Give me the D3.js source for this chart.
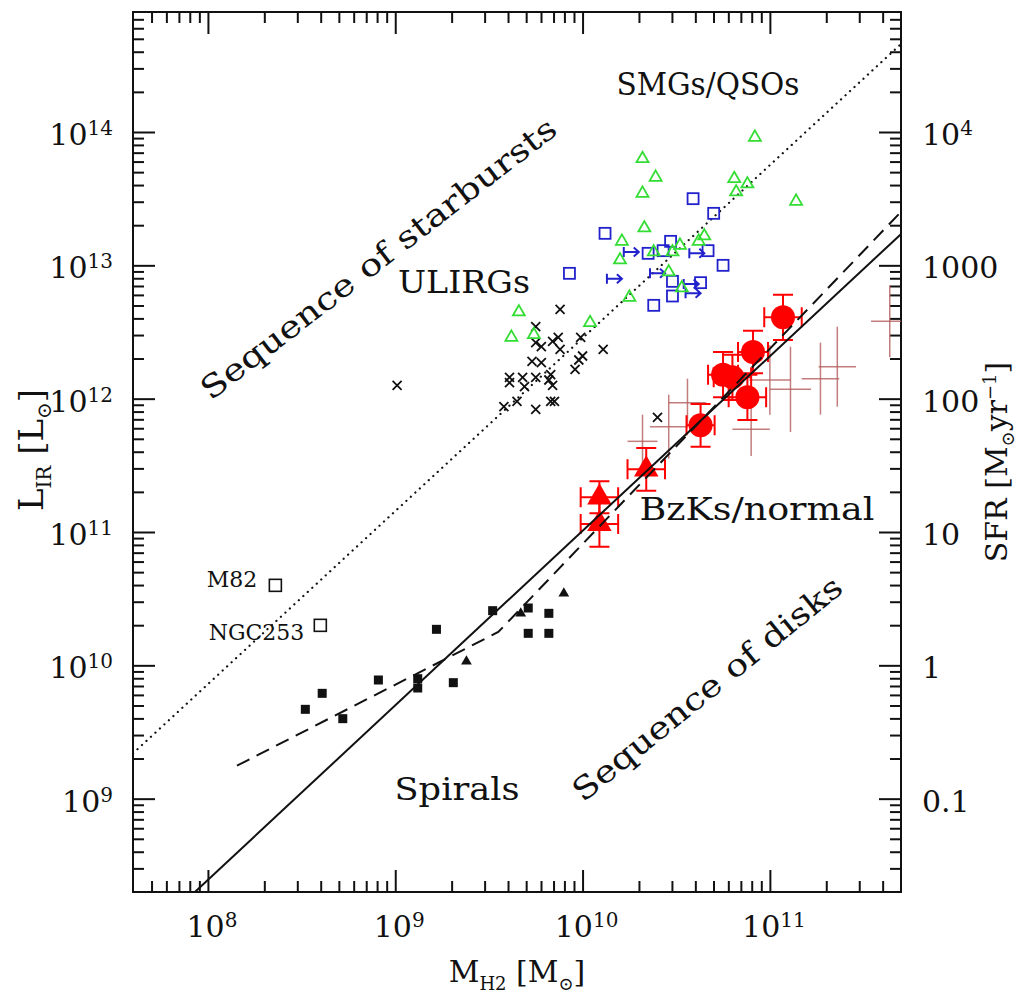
<!DOCTYPE html>
<html>
<head>
<meta charset="utf-8">
<script src="https://cdn.jsdelivr.net/npm/d3@7"></script>
<style>
body { margin: 0; background: #fff; }
svg { display: block; }
text { font-family: "DejaVu Serif", serif; fill: #111; }
</style>
</head>
<body>
<svg id="chart" width="1021" height="993"></svg>
<script>
// all values are log10 of M_H2 [Msun] and L_IR [Lsun]

// SMGs (green open triangles)
const smgM = [10.92, 10.32, 10.39, 10.32, 10.81, 10.88, 10.82, 11.14, 10.33, 10.21, 10.65, 10.62,
              10.20, 10.38, 10.48, 10.52, 10.46, 10.53, 10.25, 9.66, 9.62, 9.74, 10.04];
const smgL = [13.96, 13.80, 13.66, 13.54, 13.65, 13.61, 13.55, 13.48, 13.28, 13.18, 13.22, 13.18,
              13.04, 13.10, 13.10, 13.15, 12.95, 12.83, 12.76, 12.65, 12.46, 12.48, 12.57];

// QSOs (blue open squares)
const qsoM = [10.59, 10.70, 10.12, 10.47, 10.35, 10.43, 10.67, 10.75, 9.93, 10.48, 10.63, 10.48, 10.38];
const qsoL = [13.50, 13.39, 13.24, 13.18, 13.09, 13.11, 13.11, 13.00, 12.94, 12.88, 12.87, 12.77, 12.70];

// QSO lower limits in M_H2 (blue arrows)
const limM = [10.22, 10.57, 10.13, 10.36, 10.54, 10.55];
const limL = [13.10, 13.09, 12.90, 12.94, 12.86, 12.79];

// ULIRGs (black crosses)
const ulirgM = [9.01, 9.88, 9.75, 9.75, 9.78, 9.84, 9.87, 9.88, 9.99, 10.11, 10.00, 9.98, 9.96, 9.73, 9.78,
                9.61, 9.61, 9.68, 9.75, 9.83, 9.82, 9.84, 9.69, 9.65, 9.58, 9.75, 9.83, 9.85, 10.40];
const ulirgL = [12.10, 12.67, 12.54, 12.42, 12.39, 12.43, 12.46, 12.37, 12.46, 12.37, 12.32, 12.29, 12.22, 12.28, 12.27,
                12.16, 12.12, 12.16, 12.16, 12.18, 12.14, 12.10, 12.09, 11.98, 11.94, 11.92, 11.98, 11.98, 11.86];

// local spirals (filled squares / filled triangles)
const spiralM = [8.52, 8.61, 8.72, 8.91, 9.12, 9.12, 9.22, 9.31, 9.52, 9.71, 9.71, 9.82, 9.82];
const spiralL = [9.67, 9.79, 9.60, 9.89, 9.90, 9.83, 10.27, 9.87, 10.41, 10.43, 10.24, 10.39, 10.24];
const spiralTriM = [9.38, 9.67, 9.90];
const spiralTriL = [10.03, 10.39, 10.54];

// local starbursts
const nearbyNames = ['M82', 'NGC253'];
const nearbyM = [8.36, 8.60];
const nearbyL = [10.60, 10.30];

// BzK galaxies (red circles) and errors in dex
const bzkM = [11.07, 10.91, 10.75, 10.80, 10.88, 10.63];
const bzkL = [12.61, 12.35, 12.18, 12.16, 12.01, 11.80];
const bzkXerr = [0.10, 0.08, 0.08, 0.10, 0.10, 0.075];
const bzkYerr = [0.17, 0.16, 0.17, 0.17, 0.17, 0.16];

// z~0.5 disks (red triangles)
const diskM = [10.34, 10.09, 10.09];
const diskL = [11.47, 11.26, 11.06];
const diskXerr = [0.10, 0.10, 0.10];
const diskYerr = [0.16, 0.12, 0.17];

// other normal galaxies (thin brown error crosses)
const normM = [11.64, 11.36, 11.27, 11.11, 11.00, 10.90, 10.56, 10.46, 10.32];
const normL = [12.58, 12.24, 12.15, 12.07, 12.14, 11.77, 11.97, 11.79, 11.68];
const normXerr = [0.10, 0.10, 0.10, 0.11, 0.11, 0.10, 0.10, 0.10, 0.08];
const normYerr = [0.27, 0.30, 0.27, 0.32, 0.26, 0.20, 0.18, 0.24, 0.20];

// relations
const diskSeqM = [7.90, 11.75];
const diskSeqL = [8.26, 13.30];
const burstSeqM = [7.60, 11.70];
const burstSeqL = [9.34, 14.66];
const fitM = [8.155, 9.55, 11.72];
const fitL = [9.247, 10.25, 13.43];

// tick labels
const xExp = [8, 9, 10, 11];
const yExp = [9, 10, 11, 12, 13, 14];
const sfrTicks = [0.1, 1, 10, 100, 1000, 10000];
const sfrLabels = ['0.1', '1', '10', '100', '1000', '10^4'];

const X0 = 133, X1 = 901, Y0 = 892, Y1 = 12;
const x = d3.scaleLog().domain([10 ** 7.6, 10 ** 11.7]).range([X0, X1]);
const y = d3.scaleLog().domain([10 ** 8.3, 10 ** 14.9]).range([Y0, Y1]);
const sfr = d3.scaleLog().domain([10 ** -1.7, 10 ** 4.9]).range([Y0, Y1]);

const px = v => x(10 ** v);
const py = v => y(10 ** v);

const svg = d3.select('#chart');

svg.append('clipPath').attr('id', 'plot')
    .append('rect').attr('x', X0).attr('y', Y1).attr('width', X1 - X0).attr('height', Y0 - Y1);

function minorTicks(lo, hi) {
    let out = [];
    for (let e = Math.floor(lo); e <= Math.ceil(hi); e++) {
        for (let k = 2; k <= 9; k++) {
            let lv = Math.log10(k * 10 ** e);
            if (lv > lo + 0.02 && lv < hi - 0.02) out.push(k * 10 ** e);
        }
    }
    return out;
}

const xMajor = xExp.map(e => 10 ** e);
const yMajor = yExp.map(e => 10 ** e);
const xMinor = minorTicks(7.6, 11.7);
const yMinor = minorTicks(8.3, 14.9);

// ticks on all four sides, pointing inwards
const axisDefs = [
    [d3.axisBottom, x, `translate(0,${Y0})`, xMajor, xMinor],
    [d3.axisTop, x, `translate(0,${Y1})`, xMajor, xMinor],
    [d3.axisLeft, y, `translate(${X0},0)`, yMajor, yMinor],
    [d3.axisRight, y, `translate(${X1},0)`, yMajor, yMinor]
];
axisDefs.forEach(function (a) {
    [[a[3], 22], [a[4], 11]].forEach(function (t) {
        let g = svg.append('g').attr('transform', a[2])
            .call(a[0](a[1]).tickValues(t[0]).tickSize(-t[1]).tickSizeOuter(0).tickFormat(''));
        g.select('.domain').remove();
        g.selectAll('line').attr('stroke', '#111').attr('stroke-width', 2);
    });
});

svg.append('rect')
    .attr('x', X0).attr('y', Y1).attr('width', X1 - X0).attr('height', Y0 - Y1)
    .attr('fill', 'none').attr('stroke', '#111').attr('stroke-width', 2);

// tick labels
yExp.forEach(function (e) {
    svg.append('text')
        .attr('x', 113).attr('y', py(e) + 13)
        .attr('text-anchor', 'end').style('font-size', '30px')
        .text('10')
        .append('tspan').attr('dy', -10).style('font-size', '20px').text(e);
});
xExp.forEach(function (e) {
    svg.append('text')
        .attr('x', px(e) + 4).attr('y', 937)
        .attr('text-anchor', 'middle').style('font-size', '30px')
        .text('10')
        .append('tspan').attr('dy', -10).style('font-size', '20px').text(e);
});
sfrTicks.forEach(function (v, i) {
    let t = svg.append('text')
        .attr('x', 922).attr('y', sfr(v) + 13)
        .style('font-size', '30px');
    let parts = sfrLabels[i].split('^');
    t.text(parts[0]);
    if (parts[1]) t.append('tspan').attr('dy', -10).style('font-size', '20px').text(parts[1]);
});

// axis titles: [text, shift, size]
function richText(sel, parts) {
    let shift = 0;
    parts.forEach(function (p) {
        let ts = sel.append('tspan').text(p[0]).attr('dy', p[1] - shift);
        if (p[2]) ts.style('font-size', p[2] + 'px');
        shift = p[1];
    });
}

richText(svg.append('text').attr('x', 517).attr('y', 982).attr('text-anchor', 'middle').style('font-size', '30px'),
    [['M', 0], ['H2', 8, 18], [' [M', 0], ['\u2299', 8, 18], [']', 0]]);

richText(svg.append('text').attr('transform', 'translate(43,450) rotate(-90)').attr('text-anchor', 'middle').style('font-size', '34px'),
    [['L', 0], ['IR', 8, 20], [' [L', 0], ['\u2299', 8, 20], [']', 0]]);

richText(svg.append('text').attr('transform', 'translate(1007,462) rotate(-90)').attr('text-anchor', 'middle').style('font-size', '30px'),
    [['SFR [M', 0], ['\u2299', 7, 18], ['yr', 0], ['\u22121', -11, 18], [']', 0]]);

const plot = svg.append('g').attr('clip-path', 'url(#plot)');

// thin brown crosses
const brown = plot.append('g').attr('stroke', '#b35c5c').attr('stroke-opacity', 0.8).attr('stroke-width', 1.5);
normM.forEach(function (m, i) {
    brown.append('line').attr('x1', px(m - normXerr[i])).attr('x2', px(m + normXerr[i]))
        .attr('y1', py(normL[i])).attr('y2', py(normL[i]));
    brown.append('line').attr('x1', px(m)).attr('x2', px(m))
        .attr('y1', py(normL[i] - normYerr[i])).attr('y2', py(normL[i] + normYerr[i]));
});

// red error bars with caps
function errorBars(g, ms, ls, xe, ye) {
    const cap = 10;
    ms.forEach(function (m, i) {
        let cx = px(m), cy = py(ls[i]);
        let xl = px(m - xe[i]), xr = px(m + xe[i]);
        let yb = py(ls[i] - ye[i]), yt = py(ls[i] + ye[i]);
        let path = d3.path();
        path.moveTo(xl, cy); path.lineTo(xr, cy);
        path.moveTo(xl, cy - cap); path.lineTo(xl, cy + cap);
        path.moveTo(xr, cy - cap); path.lineTo(xr, cy + cap);
        path.moveTo(cx, yb); path.lineTo(cx, yt);
        path.moveTo(cx - cap, yb); path.lineTo(cx + cap, yb);
        path.moveTo(cx - cap, yt); path.lineTo(cx + cap, yt);
        g.append('path').attr('d', path.toString());
    });
}
const red = plot.append('g').attr('stroke', '#ff0000').attr('stroke-width', 2).attr('fill', 'none');
errorBars(red, diskM, diskL, diskXerr, diskYerr);
errorBars(red, bzkM, bzkL, bzkXerr, bzkYerr);

plot.selectAll('.bzk').data(bzkM).enter().append('circle')
    .attr('cx', d => px(d)).attr('cy', (d, i) => py(bzkL[i])).attr('r', 12)
    .attr('fill', '#ff0000');

plot.selectAll('.disk').data(diskM).enter().append('path')
    .attr('d', d3.symbol(d3.symbolTriangle, 260))
    .attr('transform', (d, i) => `translate(${px(d)},${py(diskL[i])})`)
    .attr('fill', '#ff0000');

// relations
const line = d3.line().x(d => px(d[0])).y(d => py(d[1]));
plot.append('path').attr('d', line(d3.zip(burstSeqM, burstSeqL)))
    .attr('fill', 'none').attr('stroke', '#111').attr('stroke-width', 2.2)
    .attr('stroke-dasharray', '0.1,6').attr('stroke-linecap', 'round');
plot.append('path').attr('d', line(d3.zip(diskSeqM, diskSeqL)))
    .attr('fill', 'none').attr('stroke', '#111').attr('stroke-width', 2);
plot.append('path').attr('d', line(d3.zip(fitM, fitL)))
    .attr('fill', 'none').attr('stroke', '#111').attr('stroke-width', 2)
    .attr('stroke-dasharray', '14,8');

// spirals
plot.selectAll('.sp').data(spiralM).enter().append('rect')
    .attr('x', d => px(d) - 4.5).attr('y', (d, i) => py(spiralL[i]) - 4.5)
    .attr('width', 9).attr('height', 9).attr('fill', '#111');
plot.selectAll('.spt').data(spiralTriM).enter().append('path')
    .attr('d', d3.symbol(d3.symbolTriangle, 50))
    .attr('transform', (d, i) => `translate(${px(d)},${py(spiralTriL[i])})`)
    .attr('fill', '#111');

// nearby starbursts
const labelOffsets = [[-18, 2], [-16, 15]];
nearbyM.forEach(function (m, i) {
    plot.append('rect').attr('x', px(m) - 6).attr('y', py(nearbyL[i]) - 6)
        .attr('width', 12).attr('height', 12)
        .attr('fill', 'none').attr('stroke', '#111').attr('stroke-width', 1.6);
    svg.append('text').attr('x', px(m) + labelOffsets[i][0]).attr('y', py(nearbyL[i]) + labelOffsets[i][1])
        .attr('text-anchor', 'end').style('font-size', '22px').text(nearbyNames[i]);
});

// ULIRGs
plot.selectAll('.ul').data(ulirgM).enter().append('path')
    .attr('d', 'M-4.5,-4.5L4.5,4.5M-4.5,4.5L4.5,-4.5')
    .attr('transform', (d, i) => `translate(${px(d)},${py(ulirgL[i])})`)
    .attr('stroke', '#111').attr('stroke-width', 1.8);

// QSOs and limits
plot.selectAll('.qso').data(qsoM).enter().append('rect')
    .attr('x', d => px(d) - 5.5).attr('y', (d, i) => py(qsoL[i]) - 5.5)
    .attr('width', 11).attr('height', 11)
    .attr('fill', 'none').attr('stroke', '#2222cc').attr('stroke-width', 1.8);
plot.selectAll('.lim').data(limM).enter().append('path')
    .attr('d', 'M0,-5L0,5M0,0L15,0M10,-4.5L15,0L10,4.5')
    .attr('transform', (d, i) => `translate(${px(d)},${py(limL[i])})`)
    .attr('fill', 'none').attr('stroke', '#2222cc').attr('stroke-width', 2);

// SMGs
plot.selectAll('.smg').data(smgM).enter().append('path')
    .attr('d', d3.symbol(d3.symbolTriangle, 62))
    .attr('transform', (d, i) => `translate(${px(d)},${py(smgL[i])})`)
    .attr('fill', 'none').attr('stroke', '#33dd33').attr('stroke-width', 1.8);

// annotations
function note(txt, cx, cy, len, angle) {
    svg.append('text')
        .attr('transform', `translate(${cx},${cy}) rotate(${angle})`)
        .attr('text-anchor', 'middle').style('font-size', '31px')
        .attr('textLength', len).attr('lengthAdjust', 'spacingAndGlyphs')
        .text(txt);
}
note('SMGs/QSOs', 708, 95, 183, 0);
note('ULIRGs', 464, 293, 132, 0);
note('BzKs/normal', 757, 520, 235, 0);
note('Spirals', 457, 800, 125, 0);
note('Sequence of starbursts', 385, 267, 440, -37.6);
note('Sequence of disks', 714, 697, 337, -39);
</script>
</body>
</html>
